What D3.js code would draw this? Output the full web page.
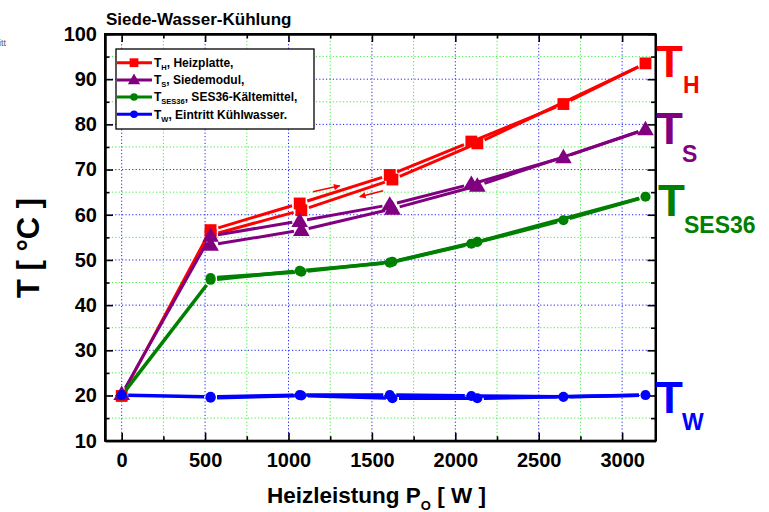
<!DOCTYPE html>
<html lang="de">
<head>
<meta charset="UTF-8">
<title>Siede-Wasser-Kühlung</title>
<script src="https://cdn.jsdelivr.net/npm/d3@7"></script>
<style>
  body { margin: 0; background: #fff; }
  svg text { font-family: "Liberation Sans", Arial, sans-serif; font-weight: bold; }
  .grid-major { stroke: #2020ff; stroke-width: 1; stroke-dasharray: 1.2 2.2; }
  .grid-minor { stroke: #40ee40; stroke-width: 1; stroke-dasharray: 1.2 2.2; }
  .axis path, .axis line { stroke: #000; }
  .axis path { stroke-width: 2; }
  .axis line { stroke-width: 1.6; }
  .axis text { font-size: 20px; fill: #000; }
</style>
</head>
<body>
<svg width="769" height="512"></svg>
<script>
// measured power steps, going up to 3140 W and back down
const power = [0, 533, 1067, 1607, 2096, 2648, 3140, 2132, 1623, 1077, 533];

const tH    = [19.9, 56.6, 62.5, 68.8, 76.2, 84.5, 93.5, 75.8, 67.8, 61.0, 55.5];
const tS    = [20.3, 55.3, 58.6, 62.2, 66.8, 72.7, 78.9, 66.4, 61.3, 56.6, 53.3];
const tSES  = [20.0, 45.6, 47.6, 49.4, 53.6, 58.8, 64.0, 54.0, 49.6, 47.4, 46.0];
const tW    = [20.1, 19.7, 20.1, 20.1, 19.9, 19.7, 20.1, 19.4, 19.4, 20.0, 19.5];

const xMajor = [0, 500, 1000, 1500, 2000, 2500, 3000];
const xMinor = [250, 750, 1250, 1750, 2250, 2750];
const yMajor = [10, 20, 30, 40, 50, 60, 70, 80, 90, 100];
const yMinor = [15, 25, 35, 45, 55, 65, 75, 85, 95];

// direction arrows (power, temperature) start -> end
const arrows = [
  [[1147, 65.1], [1307, 66.4]],
  [[1567, 65.3], [1427, 64.0]]
];

const series = [
  { key: 'H', values: tH, color: '#ff0000', shape: 'square', lw: 3, gap: 8,
    legend: ['T', 'H', ', Heizplatte,'] },
  { key: 'S', values: tS, color: '#800080', shape: 'triangle', lw: 3, gap: 7.5,
    legend: ['T', 'S', ', Siedemodul,'] },
  { key: 'SES36', values: tSES, color: '#008000', shape: 'circle', lw: 3.6, gap: 6.5,
    legend: ['T', 'SES36', ', SES36-Kältemittel,'] },
  { key: 'W', values: tW, color: '#0000ff', shape: 'circle', lw: 3.6, gap: 6.5,
    legend: ['T', 'W', ', Eintritt Kühlwasser.'] }
];

const svg = d3.select('svg');
const L = 105, R = 655.5, T = 34, B = 440.7;

const x = d3.scaleLinear().domain([-100, 3200]).range([L, R]);
const y = d3.scaleLinear().domain([10, 100]).range([B, T]);

// grid
const grid = svg.append('g');
grid.selectAll('.gvx').data(xMajor).enter().append('line')
  .attr('class', 'grid-major')
  .attr('x1', d => x(d)).attr('x2', d => x(d)).attr('y1', T).attr('y2', B);
grid.selectAll('.gvm').data(xMinor).enter().append('line')
  .attr('class', 'grid-minor')
  .attr('x1', d => x(d)).attr('x2', d => x(d)).attr('y1', T).attr('y2', B);
grid.selectAll('.ghx').data(yMajor.filter(d => d > 10 && d < 100)).enter().append('line')
  .attr('class', 'grid-major')
  .attr('x1', L).attr('x2', R).attr('y1', d => y(d)).attr('y2', d => y(d));
grid.selectAll('.ghm').data(yMinor).enter().append('line')
  .attr('class', 'grid-minor')
  .attr('x1', L).attr('x2', R).attr('y1', d => y(d)).attr('y2', d => y(d));

// axes, ticks pointing inwards
function addAxis(gen, tr, values, size, labels) {
  return svg.append('g').attr('class', 'axis').attr('transform', tr)
    .call(gen.tickValues(values).tickSizeInner(size).tickSizeOuter(0).tickPadding(12)
      .tickFormat(labels ? d3.format('d') : ''));
}
addAxis(d3.axisBottom(x), `translate(0,${B})`, xMajor, -8, true);
addAxis(d3.axisBottom(x), `translate(0,${B})`, xMinor, -4.5, false);
addAxis(d3.axisTop(x), `translate(0,${T})`, xMajor, -8, false);
addAxis(d3.axisTop(x), `translate(0,${T})`, xMinor, -4.5, false);
addAxis(d3.axisLeft(y), `translate(${L},0)`, yMajor, -8, true).selectAll('text').attr('x', -8);
addAxis(d3.axisLeft(y), `translate(${L},0)`, yMinor, -4.5, false);
addAxis(d3.axisRight(y), `translate(${R},0)`, yMajor, -8, false);
addAxis(d3.axisRight(y), `translate(${R},0)`, yMinor, -4.5, false);
svg.selectAll('.axis text').filter(function () { return this.textContent === ''; }).remove();

svg.append('rect').attr('x', L).attr('y', T).attr('width', R - L).attr('height', B - T)
  .attr('fill', 'none').attr('stroke', '#000').attr('stroke-width', 2);

// series: Origin-style line segments with small gaps at the symbols
const symbolType = { square: d3.symbolSquare, triangle: d3.symbolTriangle, circle: d3.symbolCircle };
const symbolSize = { square: 140, triangle: 120, circle: 80 };

series.forEach(s => {
  const pts = power.map((p, i) => [x(p), y(s.values[i])]);
  const segs = d3.pairs(pts).map(([a, b]) => {
    const dx = b[0] - a[0], dy = b[1] - a[1];
    const len = Math.hypot(dx, dy);
    const g = Math.min(s.gap, len / 2 - 0.5);
    return [a[0] + dx / len * g, a[1] + dy / len * g, b[0] - dx / len * g, b[1] - dy / len * g];
  });
  const g = svg.append('g');
  g.selectAll('line').data(segs).enter().append('line')
    .attr('x1', d => d[0]).attr('y1', d => d[1]).attr('x2', d => d[2]).attr('y2', d => d[3])
    .attr('stroke', s.color).attr('stroke-width', s.lw);
  g.selectAll('path').data(pts).enter().append('path')
    .attr('transform', d => `translate(${d[0]},${d[1] + (s.shape === 'triangle' ? 1 : 0)})`)
    .attr('d', d3.symbol().type(symbolType[s.shape]).size(symbolSize[s.shape]))
    .attr('fill', s.color);
});

// direction arrows
svg.append('defs').append('marker')
  .attr('id', 'ah').attr('viewBox', '0 0 10 10').attr('refX', 9).attr('refY', 5)
  .attr('markerWidth', 5).attr('markerHeight', 4).attr('orient', 'auto')
  .append('path').attr('d', 'M0,0L10,5L0,10Z').attr('fill', '#ff0000');
svg.selectAll('.arrow').data(arrows).enter().append('line')
  .attr('x1', d => x(d[0][0])).attr('y1', d => y(d[0][1]))
  .attr('x2', d => x(d[1][0])).attr('y2', d => y(d[1][1]))
  .attr('stroke', '#ff0000').attr('stroke-width', 1.6).attr('marker-end', 'url(#ah)');

// legend
const lg = svg.append('g');
lg.append('rect').attr('x', 116).attr('y', 49).attr('width', 198).attr('height', 80)
  .attr('fill', '#fff').attr('stroke', '#000').attr('stroke-width', 1.3);
series.forEach((s, i) => {
  const ry = 62.7 + i * 17.2;
  lg.append('line').attr('x1', 117).attr('x2', 152).attr('y1', ry).attr('y2', ry)
    .attr('stroke', s.color).attr('stroke-width', 3);
  lg.append('path').attr('transform', `translate(134,${ry + (s.shape === 'triangle' ? 0.7 : 0)})`)
    .attr('d', d3.symbol().type(symbolType[s.shape]).size(symbolSize[s.shape] * 0.55))
    .attr('fill', s.color);
  const t = lg.append('text').attr('x', 154).attr('y', ry + 4.3).attr('font-size', 12);
  t.append('tspan').text(s.legend[0]);
  t.append('tspan').attr('dy', 3).attr('font-size', 7.5).text(s.legend[1]);
  t.append('tspan').attr('dy', -3).text(s.legend[2]);
});

// big labels on the right
const rightLabels = [
  { main: 'T', sub: 'H', color: '#ff0000', x: 656, y: 77, sx: 683, sy: 93 },
  { main: 'T', sub: 'S', color: '#800080', x: 656, y: 144, sx: 682, sy: 161.5 },
  { main: 'T', sub: 'SES36', color: '#008000', x: 658, y: 216, sx: 684, sy: 232.5 },
  { main: 'T', sub: 'W', color: '#0000ff', x: 656, y: 413, sx: 682, sy: 430 }
];
rightLabels.forEach(r => {
  svg.append('text').attr('x', r.x).attr('y', r.y).attr('font-size', 44)
    .attr('fill', r.color).text(r.main);
  svg.append('text').attr('x', r.sx).attr('y', r.sy).attr('font-size', 23)
    .attr('fill', r.color).text(r.sub);
});

// titles
svg.append('text').attr('x', 106).attr('y', 25).attr('font-size', 17).text('Siede-Wasser-Kühlung');

const xt = svg.append('text').attr('x', 267).attr('y', 503).attr('font-size', 22.5);
xt.append('tspan').text('Heizleistung P');
xt.append('tspan').attr('dy', 6.5).attr('font-size', 13).text('O');
xt.append('tspan').attr('dy', -6.5).text(' [ W ]');

svg.append('text').attr('transform', 'translate(39,248) rotate(-90)')
  .attr('text-anchor', 'middle').attr('font-size', 31).text('T [ °C ]');

// cropped text fragment at the left edge of the original picture
svg.append('text').attr('x', -1).attr('y', 46).attr('font-size', 9)
  .attr('fill', '#555').style('font-weight', 'normal').text('itt');
</script>
</body>
</html>
